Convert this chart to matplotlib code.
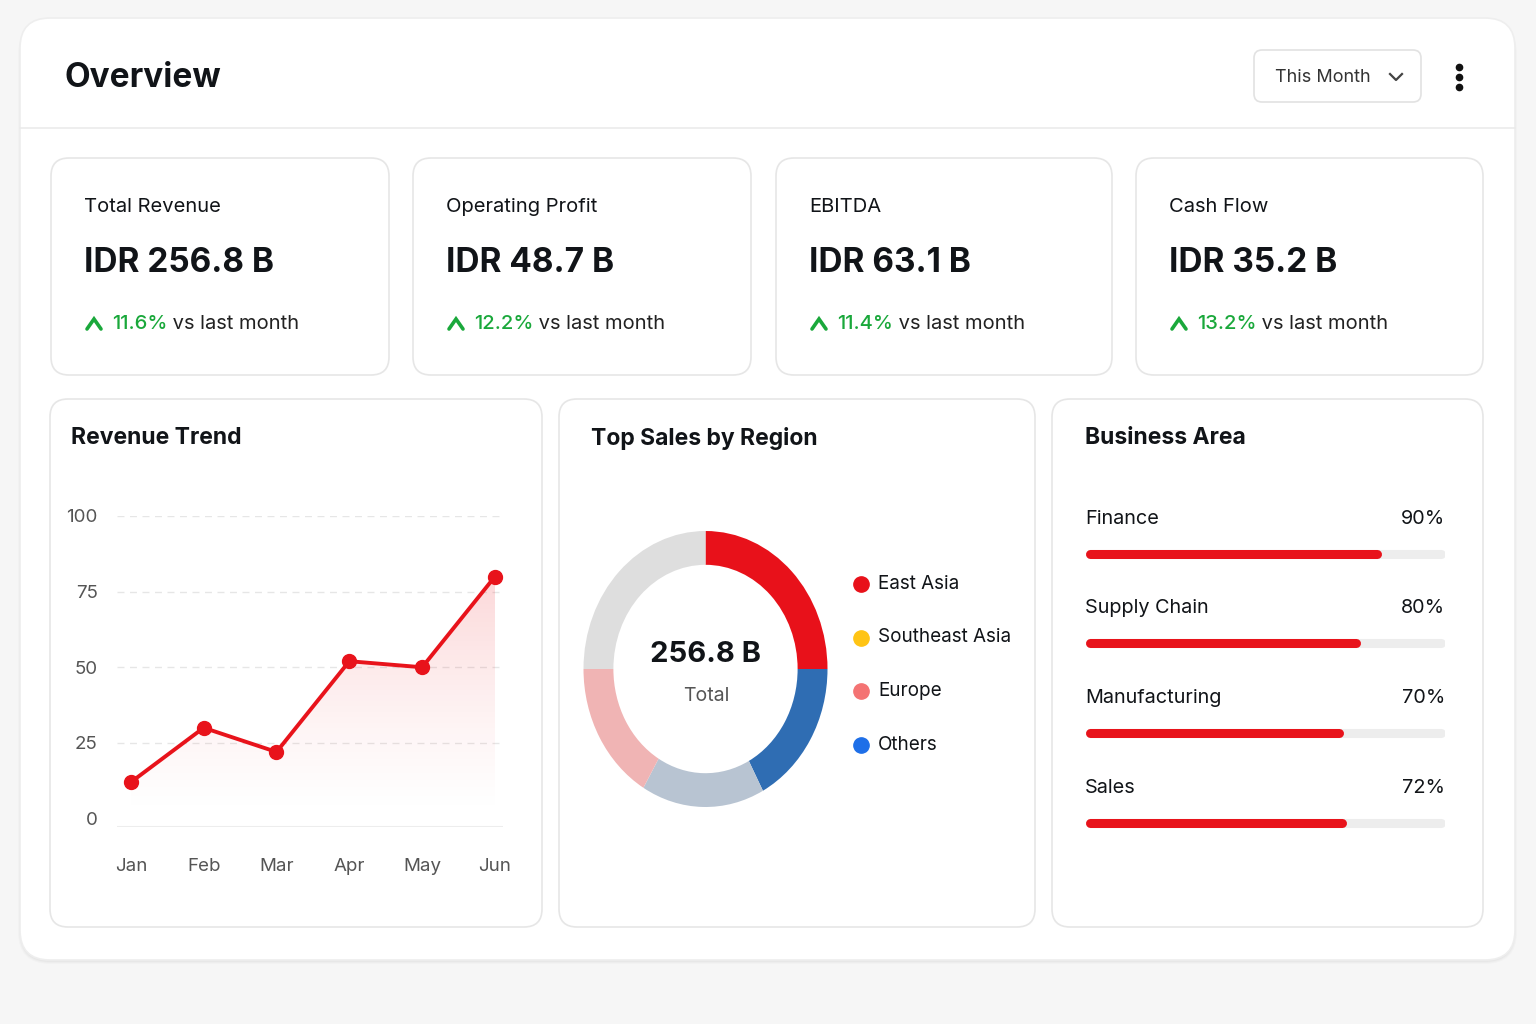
import numpy as np
import matplotlib.pyplot as plt
from matplotlib.patches import FancyBboxPatch

plt.rcParams['font.family'] = ['Inter', 'DejaVu Sans']

# ---- data ----
kpi_titles = ['Total Revenue', 'Operating Profit', 'EBITDA', 'Cash Flow']
kpi_values = ['IDR 256.8 B', 'IDR 48.7 B', 'IDR 63.1 B', 'IDR 35.2 B']
kpi_change = ['11.6%', '12.2%', '11.4%', '13.2%']

months = ['Jan', 'Feb', 'Mar', 'Apr', 'May', 'Jun']
revenue = [12, 30, 22, 52, 50, 80]

donut_shares = [25, 17.2, 16.3, 16.5, 25]
donut_colors = ['#E8111A', '#2F6DB3', '#B8C4D2', '#F0B4B4', '#DEDEDE']
legend_regions = ['East Asia', 'Southeast Asia', 'Europe', 'Others']
legend_colors = ['#E8111A', '#FFC414', '#F47373', '#1E6FE8']

areas = ['Finance', 'Supply Chain', 'Manufacturing', 'Sales']
area_pct = [90, 80, 70, 72]
area_fill = [82, 76, 71, 72]

RED = '#E8131B'
GREEN = '#1AA83B'
DARK = '#111418'

W, H = 1536, 1024
fig = plt.figure(figsize=(W / 100, H / 100), dpi=100, facecolor='#F6F6F6')

bg = fig.add_axes([0, 0, 1, 1])
bg.set_xlim(0, W)
bg.set_ylim(H, 0)
bg.axis('off')


def card(x0, y0, x1, y1, r=18, edge='#E6E6E6', shadow=True):
    if shadow:
        for i, a in enumerate([0.025, 0.02, 0.015]):
            s = FancyBboxPatch((x0 - i, y0 + 2 + i), x1 - x0 + 2 * i, y1 - y0,
                               boxstyle='round,pad=0,rounding_size=%d' % (r + i),
                               fc='black', ec='none', alpha=a, zorder=1)
            bg.add_patch(s)
    p = FancyBboxPatch((x0, y0), x1 - x0, y1 - y0,
                       boxstyle='round,pad=0,rounding_size=%d' % r,
                       fc='white', ec=edge, lw=1.2, zorder=2)
    bg.add_patch(p)


def px_axes(x0, y0, x1, y1):
    return fig.add_axes([x0 / W, 1 - y1 / H, (x1 - x0) / W, (y1 - y0) / H])


# outer card
card(20, 18, 1515, 960, r=30, edge='#EEEEEE')
bg.plot([20, 1515], [128, 128], color='#EBEBEB', lw=1.2, zorder=3)
bg.text(64, 78, 'Overview', fontsize=24, fontweight='bold', color=DARK, va='center', zorder=4)

# dropdown + kebab
bg.add_patch(FancyBboxPatch((1254, 50), 167, 52, boxstyle='round,pad=0,rounding_size=8',
                            fc='white', ec='#E2E2E2', lw=1.2, zorder=3))
bg.text(1275, 78, 'This Month', fontsize=13, color='#333333', va='center', zorder=4)
bg.plot([1390, 1396, 1402], [74, 80, 74], color='#444444', lw=1.6, zorder=4)
for yy in [67, 77, 87]:
    bg.plot(1459, yy, 'o', color='#111111', ms=4.5, zorder=4)

# KPI cards
kpi_x = [(51, 389), (413, 751), (776, 1112), (1136, 1483)]
for (x0, x1), t, v, c in zip(kpi_x, kpi_titles, kpi_values, kpi_change):
    card(x0, 158, x1, 375)
    tx = x0 + 33
    bg.text(tx, 207, t, fontsize=14.5, color=DARK, va='center', zorder=4)
    bg.text(tx, 263, v, fontsize=24, fontweight='bold', color=DARK, va='center', zorder=4)
    bg.plot([tx + 3, tx + 10, tx + 17], [329, 319, 329], color=GREEN, lw=2.6,
            solid_capstyle='round', solid_joinstyle='miter', zorder=4)
    t1 = bg.text(tx + 28, 324, c, fontsize=14.5, color=GREEN, fontweight='medium',
                 va='center', zorder=4)
    bg.annotate(' vs last month', xy=(1, 0.5), xycoords=t1, fontsize=14.5, color='#222222',
                va='center', ha='left', zorder=4)

# bottom panels
panels = [(50, 542, 'Revenue Trend', 71), (559, 1035, 'Top Sales by Region', 591),
          (1052, 1483, 'Business Area', 1085)]
for x0, x1, t, tx in panels:
    card(x0, 399, x1, 927)
    bg.text(tx, 438, t, fontsize=16.5, fontweight='bold', color=DARK, va='center', zorder=4)

# ---- line chart ----
ax = px_axes(117, 516, 503, 827)
x = np.arange(len(months))
for s in ax.spines.values():
    s.set_visible(False)
ax.patch.set_alpha(0)
for g in [25, 50, 75, 100]:
    ax.axhline(g, color='#E6E6E6', lw=1, ls=(0, (5, 4)), zorder=0)
ax.axhline(-2.8, color='#EDEDED', lw=1.5, zorder=0)
ax.set_yticks([0, 25, 50, 75, 100])
ax.set_xticks(x)
ax.set_xticklabels(months)
ax.tick_params(length=0, labelsize=13.5, labelcolor='#555555')
ax.tick_params(axis='y', pad=14)
ax.tick_params(axis='x', pad=22)

grad = np.zeros((200, 2, 4))
grad[..., 0] = 0.93
grad[..., 1] = 0.1
grad[..., 2] = 0.12
grad[..., 3] = 0.17 * np.linspace(1, 0, 200)[:, None] ** 1.3
poly = ax.fill_between(x, revenue, 0, color='none')
im = ax.imshow(grad, extent=[0, 5, 0, max(revenue)], origin='upper', aspect='auto', zorder=1)
im.set_clip_path(poly.get_paths()[0], transform=ax.transData)
ax.plot(x, revenue, color=RED, lw=2.8, marker='o', ms=10, zorder=3)
ax.set_xlim(-0.19, 5.11)
ax.set_ylim(-2.8, 100)

# ---- donut ----
ax2 = px_axes(583.5, 531, 827.5, 807)
ax2.pie(donut_shares, colors=donut_colors, startangle=90, counterclock=False,
        wedgeprops=dict(width=0.245, edgecolor='none'))
ax2.set_aspect('auto')
ax2.set_xlim(-1, 1)
ax2.set_ylim(-1, 1)
ax2.axis('off')
bg.text(706, 655, '256.8 B', fontsize=21, fontweight='bold', color=DARK, ha='center', va='center', zorder=4)
bg.text(706, 696, 'Total', fontsize=14, color='#555555', ha='center', va='center', zorder=4)

for i, (r, c) in enumerate(zip(legend_regions, legend_colors)):
    yy = 584 + i * 53.5
    bg.plot(861, yy, 'o', color=c, ms=11, zorder=4)
    bg.text(878, yy, r, fontsize=13.6, color=DARK, va='center', zorder=4)

# ---- business area bars ----
ax3 = px_axes(1085, 500, 1445, 845)
cap = 4.5 / 351 * 100
ax3.set_xlim(-cap, 100 + cap)
ax3.set_ylim(3.25, -0.6)
ax3.axis('off')
for i, (name, pct, val) in enumerate(zip(areas, area_pct, area_fill)):
    ax3.plot([0, 100], [i, i], color='#EDEDED', lw=6.5, solid_capstyle='round', zorder=1)
    ax3.plot([0, val], [i, i], color=RED, lw=6.5, solid_capstyle='round', zorder=2)
    ax3.text(-cap, i - 0.39, name, fontsize=14.3, color=DARK, va='center', ha='left')
    ax3.text(100 + cap, i - 0.39, '%d%%' % pct, fontsize=14.3, color=DARK, va='center', ha='right')

fig.savefig('out.png', dpi=100, facecolor=fig.get_facecolor())
